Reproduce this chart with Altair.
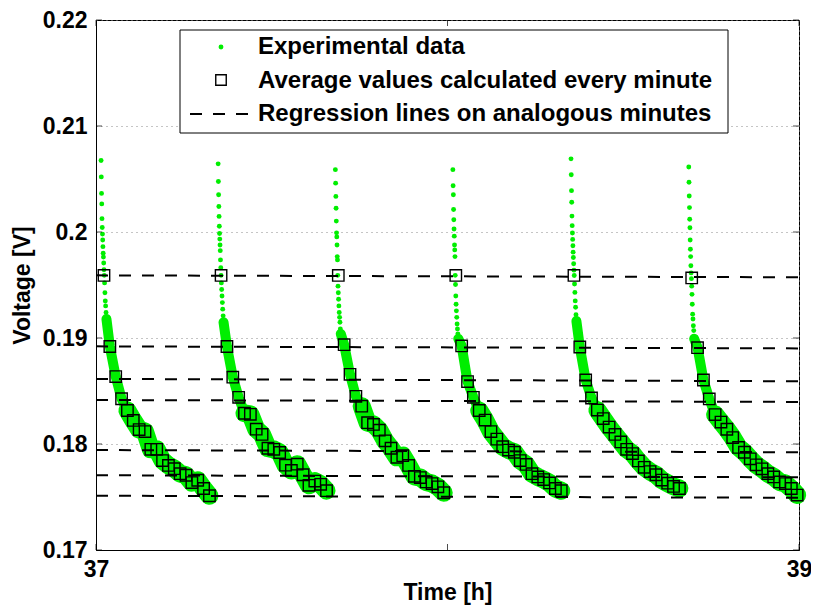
import altair as alt
import pandas as pd

# ---------------- data ----------------
x_ticks = [37, 38, 39]
y_ticks = [0.17, 0.18, 0.19, 0.20, 0.21, 0.22]

legend_labels = ["Experimental data",
                 "Average values calculated every minute",
                 "Regression lines on analogous minutes"]

# start time of each discharge cycle [h]
cycle_start_h = [37.0144, 37.3475, 37.6810, 38.0153, 38.3514, 38.6864]

# isolated experimental points at the start of each cycle (minutes after start)
spike_t_min = [0.00, 0.04, 0.08, 0.12, 0.16, 0.20, 0.24, 0.28, 0.32, 0.36,
               0.40, 0.45, 0.50, 0.55, 0.60, 0.66, 0.72, 0.78, 0.85, 0.92]
spike_v_c1 = [0.20675, 0.20520, 0.20364, 0.20265, 0.20126, 0.20042, 0.19980, 0.19924, 0.19862, 0.19800,
              0.19763, 0.19707, 0.19644, 0.19591, 0.19520, 0.19427, 0.19349, 0.19303, 0.19241, 0.19179]
spike_v_c2 = [0.20643, 0.20476, 0.20352, 0.20240, 0.20147, 0.20054, 0.19986, 0.19933, 0.19877, 0.19824,
              0.19737, 0.19663, 0.19591, 0.19520, 0.19458, 0.19396, 0.19334, 0.19272, 0.19209, 0.19148]
spike_v_c3 = [0.20588, 0.20461, 0.20336, 0.20224, 0.20103, 0.19992, 0.19954, 0.19877, 0.19768, 0.19737,
              0.19591, 0.19489, 0.19427, 0.19365, 0.19303, 0.19241, 0.19195, 0.19148, 0.19086, 0.19039]
spike_v_c4 = [0.20588, 0.20436, 0.20352, 0.20212, 0.20116, 0.20029, 0.19961, 0.19877, 0.19831, 0.19768,
              0.19591, 0.19505, 0.19396, 0.19318, 0.19256, 0.19195, 0.19132, 0.19086, 0.19039, 0.18993]
spike_v_c5 = [0.20690, 0.20540, 0.20390, 0.20280, 0.20150, 0.20060, 0.19990, 0.19930, 0.19870, 0.19810,
              0.19760, 0.19700, 0.19640, 0.19590, 0.19510, 0.19430, 0.19350, 0.19290, 0.19220, 0.19160]
spike_v_c6 = [0.20613, 0.20470, 0.20340, 0.20230, 0.20120, 0.20040, 0.19924, 0.19837, 0.19768, 0.19682,
              0.19614, 0.19560, 0.19489, 0.19412, 0.19318, 0.19225, 0.19179, 0.19116, 0.19070, 0.18993]

# minute averages (minutes after cycle start)
avg_t_min = [0.5, 1.5, 2.5, 3.5, 4.5, 5.5, 6.5, 7.5, 8.5, 9.5,
             10.5, 11.5, 12.5, 13.5, 14.5, 15.5, 16.5, 17.5, 18.5]
avg_v_c1 = [0.19590, 0.18920, 0.18636, 0.18427, 0.18316, 0.18222, 0.18136, 0.18117, 0.17950, 0.17950,
            0.17844, 0.17798, 0.17767, 0.17720, 0.17705, 0.17636, 0.17658, 0.17580, 0.17512]
avg_v_c2 = [0.19590, 0.18920, 0.18630, 0.18440, 0.18290, 0.18280, 0.18140, 0.18090, 0.17960, 0.17950,
            0.17920, 0.17800, 0.17750, 0.17810, 0.17710, 0.17610, 0.17650, 0.17620, 0.17560]
avg_v_c3 = [0.19590, 0.18937, 0.18657, 0.18450, 0.18357, 0.18201, 0.18185, 0.18130, 0.18030, 0.17960,
            0.17875, 0.17890, 0.17798, 0.17695, 0.17683, 0.17642, 0.17627, 0.17596, 0.17540]
avg_v_c4 = [0.19590, 0.18925, 0.18589, 0.18440, 0.18316, 0.18226, 0.18117, 0.18046, 0.17975, 0.17943,
            0.17922, 0.17844, 0.17807, 0.17720, 0.17689, 0.17664, 0.17633, 0.17580, 0.17559]
avg_v_c5 = [0.19590, 0.18915, 0.18604, 0.18434, 0.18320, 0.18240, 0.18160, 0.18090, 0.18020, 0.17950,
            0.17910, 0.17840, 0.17780, 0.17740, 0.17710, 0.17660, 0.17630, 0.17600, 0.17580]
avg_v_c6 = [0.19567, 0.18909, 0.18604, 0.18425, 0.18278, 0.18207, 0.18139, 0.18061, 0.17968, 0.17922,
            0.17860, 0.17804, 0.17766, 0.17720, 0.17689, 0.17642, 0.17627, 0.17580, 0.17518]

# regression lines: value at t = 37 h and at t = 39 h
reg_t = [37.0, 39.0]
reg_v_start = [0.19591, 0.18921, 0.18614, 0.18415, 0.17943, 0.17705, 0.17512]
reg_v_end = [0.19573, 0.18902, 0.18592, 0.18397, 0.17922, 0.17686, 0.17493]

spike_all = [spike_v_c1, spike_v_c2, spike_v_c3, spike_v_c4, spike_v_c5, spike_v_c6]
avg_all = [avg_v_c1, avg_v_c2, avg_v_c3, avg_v_c4, avg_v_c5, avg_v_c6]

# ---------------- tables ----------------
spike_rows, avg_rows, thin_rows, thick_rows = [], [], [], []
for c, (t0, sv, av) in enumerate(zip(cycle_start_h, spike_all, avg_all)):
    for tm, v in zip(spike_t_min, sv):
        spike_rows.append({"t": t0 + tm / 60.0, "v": v, "cycle": c})
    for tm, v in zip(avg_t_min, av):
        avg_rows.append({"t": t0 + tm / 60.0, "v": v, "cycle": c})
    thin_rows.append({"t": t0 + spike_t_min[-1] / 60.0, "v": sv[-1], "cycle": c, "o": 0})
    for k in range(1, 6):
        thin_rows.append({"t": t0 + avg_t_min[k] / 60.0, "v": av[k], "cycle": c, "o": k})
    for k in range(4, len(av)):
        thick_rows.append({"t": t0 + avg_t_min[k] / 60.0, "v": av[k], "cycle": c, "o": k})

reg_rows = []
for i, (a, b) in enumerate(zip(reg_v_start, reg_v_end)):
    reg_rows.append({"t": reg_t[0], "v": a, "line": i})
    reg_rows.append({"t": reg_t[1], "v": b, "line": i})

spike_df = pd.DataFrame(spike_rows)
avg_df = pd.DataFrame(avg_rows)
thin_df = pd.DataFrame(thin_rows)
thick_df = pd.DataFrame(thick_rows)
reg_df = pd.DataFrame(reg_rows)

# ---------------- style ----------------
W, H = 703, 530
GREEN = "#00ee00"
FONT = "Liberation Sans"
FS = 23
LFS = 24

xs = alt.Scale(domain=[37, 39], nice=False, zero=False)
ys = alt.Scale(domain=[0.17, 0.22], nice=False, zero=False)
X = alt.X("t:Q", scale=xs, axis=alt.Axis(values=x_ticks, format="d", title="Time [h]",
                                         titlePadding=0, labelPadding=8))
Y = alt.Y("v:Q", scale=ys, axis=alt.Axis(values=y_ticks, format=".2~f", title="Voltage [V]",
                                         titlePadding=8, labelPadding=9))

band_thin = alt.Chart(thin_df).mark_line(
    color=GREEN, strokeWidth=10, strokeCap="round", strokeJoin="round"
).encode(x=X, y=Y, detail="cycle:N", order="o:Q")

band_thick = alt.Chart(thick_df).mark_line(
    color=GREEN, strokeWidth=18, strokeCap="round", strokeJoin="round"
).encode(x=X, y=Y, detail="cycle:N", order="o:Q")

spikes = alt.Chart(spike_df).mark_circle(size=24, color=GREEN, opacity=1).encode(x=X, y=Y)

reg = alt.Chart(reg_df).mark_line(
    color="black", strokeWidth=2, strokeDash=[12, 11]
).encode(x=X, y=Y, detail="line:N")

squares = alt.Chart(avg_df).mark_point(
    shape="square", size=130, filled=False, color="black", strokeWidth=1.4, opacity=1
).encode(x=X, y=Y)

# inward ticks (MATLAB style)
xt_df = pd.DataFrame({"t": x_ticks})
yt_df = pd.DataFrame({"v": y_ticks})
ticks = [
    alt.Chart(xt_df).mark_tick(color="black", size=6, thickness=1, orient="vertical").encode(x=X, y=alt.value(H - 3)),
    alt.Chart(xt_df).mark_tick(color="black", size=6, thickness=1, orient="vertical").encode(x=X, y=alt.value(3)),
    alt.Chart(yt_df).mark_tick(color="black", size=6, thickness=1, orient="horizontal").encode(y=Y, x=alt.value(3)),
    alt.Chart(yt_df).mark_tick(color="black", size=6, thickness=1, orient="horizontal").encode(y=Y, x=alt.value(W - 3)),
]

# legend box
one = pd.DataFrame({"a": [0]})
leg_box = alt.Chart(one).mark_rect(fill="white", stroke="black", strokeWidth=1).encode(
    x=alt.value(84), x2=alt.value(632), y=alt.value(10), y2=alt.value(113))
leg_dot = alt.Chart(one).mark_circle(size=24, color=GREEN, opacity=1).encode(
    x=alt.value(125), y=alt.value(27))
leg_sq = alt.Chart(one).mark_point(shape="square", size=110, filled=False, color="black",
                                   strokeWidth=1.4, opacity=1).encode(x=alt.value(125), y=alt.value(60))
leg_dash = alt.Chart(one).mark_rule(color="black", strokeWidth=2, strokeDash=[12, 11]).encode(
    x=alt.value(94), x2=alt.value(160), y=alt.value(94))
leg_text = []
for i, lab in enumerate(legend_labels):
    leg_text.append(
        alt.Chart(pd.DataFrame({"label": [lab]})).mark_text(
            align="left", baseline="middle", font=FONT, fontSize=LFS, fontWeight="bold", color="black"
        ).encode(x=alt.value(162), y=alt.value(27 + 33.5 * i), text="label:N")
    )

chart = alt.layer(
    band_thin, band_thick, spikes, reg, squares, *ticks,
    leg_box, leg_dot, leg_sq, leg_dash, *leg_text
).properties(
    width=W, height=H,
    autosize=alt.AutoSizeParams(type="none"),
    padding={"left": 88, "top": 12, "right": 12, "bottom": 56},
).configure_view(
    stroke="black", strokeWidth=1
).configure_axis(
    labelFont=FONT, labelFontSize=FS, labelFontWeight="bold", labelColor="black",
    titleFont=FONT, titleFontSize=FS, titleFontWeight="bold", titleColor="black",
    domainColor="black", domainWidth=1, tickSize=0,
    gridColor="#8a8a8a", gridDash=[1, 4], gridWidth=1,
    labelFlush=False, labelOverlap=False,
)

chart.save("out.html", embed_options={"renderer": "svg", "actions": False})
